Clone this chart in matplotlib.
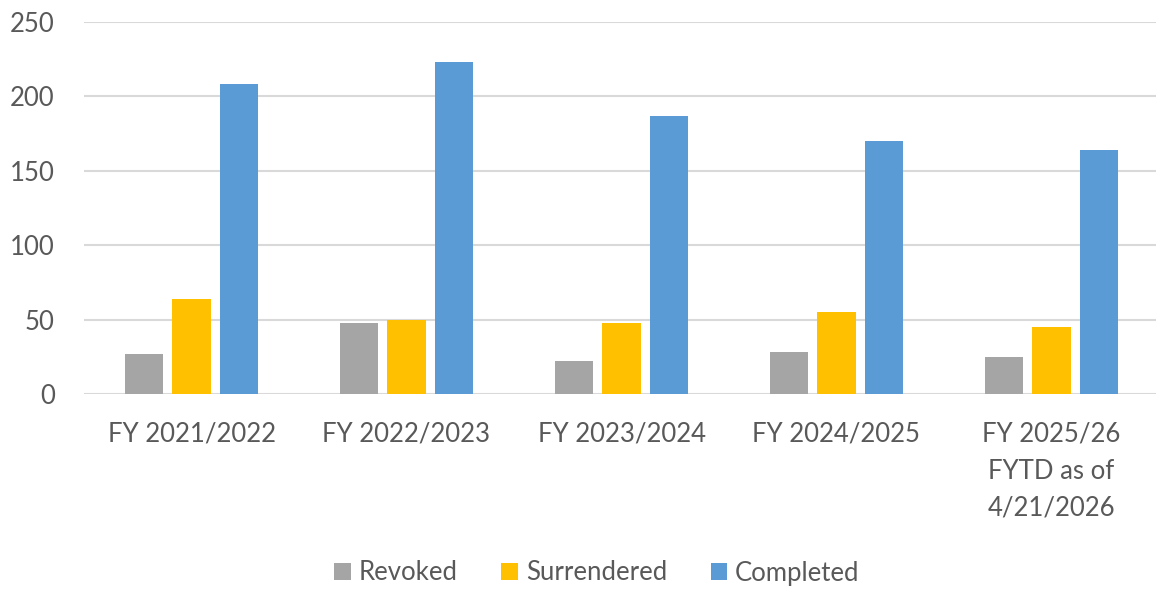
import matplotlib
matplotlib.use("Agg")
import matplotlib.pyplot as plt
import numpy as np

categories = ["FY 2021/2022", "FY 2022/2023", "FY 2023/2024", "FY 2024/2025",
              "FY 2025/26\nFYTD as of\n4/21/2026"]
series_names = ["Revoked", "Surrendered", "Completed"]
revoked = [27, 48, 22, 28, 25]
surrendered = [64, 50, 48, 55, 45]
completed = [208, 223, 187, 170, 164]
colors = ["#A5A5A5", "#FFC000", "#5B9BD5"]
yticks = [0, 50, 100, 150, 200, 250]

plt.rcParams['font.family'] = ['Lato', 'DejaVu Sans']
text_color = "#595959"
fs = 18.5

W, H = 1156, 594
fig = plt.figure(figsize=(W / 100, H / 100), dpi=100)
left = 84 / W
right = 1159 / W
bottom = 1 - 394 / H
top = 1 - 22 / H
ax = fig.add_axes([left, bottom, right - left, top - bottom])

x = np.arange(len(categories))
pitch = 0.221
width = 0.178
for i, (vals, name) in enumerate(zip([revoked, surrendered, completed], series_names)):
    ax.bar(x + (i - 1) * pitch, vals, width, color=colors[i], label=name, zorder=3)

ax.set_xlim(-0.5, len(categories) - 0.5)
ax.set_ylim(0, 250)
ax.set_yticks(yticks)
ax.set_yticklabels([str(t) for t in yticks])
ax.grid(axis='y', color="#D9D9D9", linewidth=1.5, zorder=0)
ax.set_axisbelow(True)
for s in ax.spines.values():
    s.set_visible(False)
ax.tick_params(axis='both', length=0, labelsize=fs, colors=text_color)
ax.tick_params(axis='y', pad=21)
ax.tick_params(axis='x', pad=20)
ax.set_xticks(x)
ax.set_xticklabels(categories, linespacing=1.6, va='top')

fig.legend(loc='center', bbox_to_anchor=(597 / W, 1 - 573 / H), ncol=3, frameon=False,
           fontsize=fs, labelcolor=text_color, handlelength=0.65, handleheight=0.65,
           handletextpad=0.3, columnspacing=1.7)

fig.savefig("out.png", dpi=100)
